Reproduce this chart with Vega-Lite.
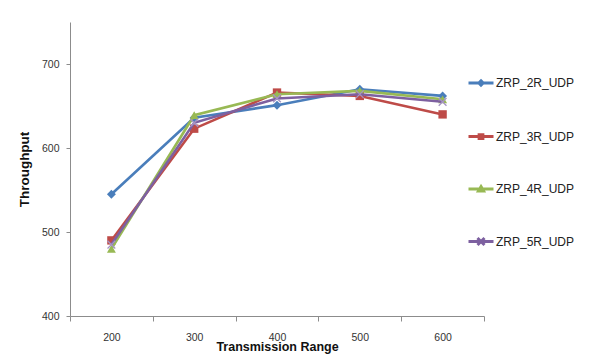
{
  "$schema": "https://vega.github.io/schema/vega-lite/v6.json",
  "autosize": "none",
  "width": 414,
  "height": 294,
  "padding": {"left": 70, "top": 22, "right": 106, "bottom": 40},
  "background": "white",
  "config": {
    "view": {"stroke": null},
    "font": "Liberation Sans",
    "axis": {
      "domainColor": "#8c8c8c",
      "tickColor": "#8c8c8c",
      "labelColor": "#333333",
      "labelFont": "Liberation Sans",
      "labelFontSize": 10.5,
      "titleFont": "Liberation Sans",
      "titleFontWeight": "bold",
      "titleColor": "#111111",
      "grid": false
    }
  },
  "data": {
    "values": [
      {"series": "ZRP_2R_UDP", "range": "200", "throughput": 545},
      {"series": "ZRP_2R_UDP", "range": "300", "throughput": 636},
      {"series": "ZRP_2R_UDP", "range": "400", "throughput": 651},
      {"series": "ZRP_2R_UDP", "range": "500", "throughput": 670},
      {"series": "ZRP_2R_UDP", "range": "600", "throughput": 662},
      {"series": "ZRP_3R_UDP", "range": "200", "throughput": 490},
      {"series": "ZRP_3R_UDP", "range": "300", "throughput": 623},
      {"series": "ZRP_3R_UDP", "range": "400", "throughput": 666},
      {"series": "ZRP_3R_UDP", "range": "500", "throughput": 662},
      {"series": "ZRP_3R_UDP", "range": "600", "throughput": 640},
      {"series": "ZRP_4R_UDP", "range": "200", "throughput": 480},
      {"series": "ZRP_4R_UDP", "range": "300", "throughput": 639},
      {"series": "ZRP_4R_UDP", "range": "400", "throughput": 664},
      {"series": "ZRP_4R_UDP", "range": "500", "throughput": 668},
      {"series": "ZRP_4R_UDP", "range": "600", "throughput": 658},
      {"series": "ZRP_5R_UDP", "range": "200", "throughput": 485},
      {"series": "ZRP_5R_UDP", "range": "300", "throughput": 630},
      {"series": "ZRP_5R_UDP", "range": "400", "throughput": 659},
      {"series": "ZRP_5R_UDP", "range": "500", "throughput": 664},
      {"series": "ZRP_5R_UDP", "range": "600", "throughput": 655}
    ]
  },
  "encoding": {
    "x": {
      "field": "range",
      "type": "ordinal",
      "bandPosition": 0.5,
      "scale": {"type": "band", "paddingInner": 0, "paddingOuter": 0},
      "axis": {
        "title": "Transmission Range",
        "labelAngle": 0,
        "tickBand": "extent",
        "tickSize": 5,
        "labelPadding": 11,
        "titleFontSize": 12.5,
        "titleX": 207,
        "titleY": 34,
        "titleBaseline": "alphabetic",
        "titleAlign": "center"
      }
    },
    "y": {
      "field": "throughput",
      "type": "quantitative",
      "scale": {"domain": [400, 750], "nice": false, "zero": false},
      "axis": {
        "title": "Throughput",
        "values": [400, 500, 600, 700],
        "tickSize": 4,
        "labelPadding": 7,
        "titleFontSize": 13.5,
        "titleX": -46,
        "titleY": 147,
        "titleAngle": -90,
        "titleAlign": "center",
        "titleBaseline": "middle"
      }
    }
  },
  "layer": [
    {
      "transform": [{"filter": "datum.series === 'ZRP_2R_UDP'"}],
      "layer": [
        {"mark": {"type": "line", "strokeWidth": 2.6, "color": "#4a7ebb"}, "encoding": {}},
        {"mark": {"type": "point", "shape": "diamond", "filled": true, "size": 80, "opacity": 1, "color": "#4a7ebb"}}
      ]
    },
    {
      "transform": [{"filter": "datum.series === 'ZRP_3R_UDP'"}],
      "layer": [
        {"mark": {"type": "line", "strokeWidth": 2.6, "color": "#be4b48"}, "encoding": {}},
        {"mark": {"type": "point", "shape": "square", "filled": true, "size": 70, "opacity": 1, "color": "#be4b48"}}
      ]
    },
    {
      "transform": [{"filter": "datum.series === 'ZRP_4R_UDP'"}],
      "layer": [
        {"mark": {"type": "line", "strokeWidth": 2.6, "color": "#98b954"}, "encoding": {}},
        {"mark": {"type": "point", "shape": "triangle-up", "filled": true, "size": 80, "opacity": 1, "color": "#98b954"}}
      ]
    },
    {
      "transform": [{"filter": "datum.series === 'ZRP_5R_UDP'"}],
      "layer": [
        {"mark": {"type": "line", "strokeWidth": 2.6, "color": "#7d60a0"}, "encoding": {}},
        {"mark": {"type": "point", "shape": "M-1,-1L1,1M-1,1L1,-1", "filled": false, "size": 60, "strokeWidth": 1.3, "opacity": 1, "color": "#a594c4"}}
      ]
    },
    {
      "mark": {"type": "point", "filled": false, "size": 0, "strokeWidth": 0, "opacity": 1},
      "encoding": {
        "color": {
          "field": "series",
          "type": "nominal",
          "scale": {
            "domain": ["ZRP_2R_UDP", "ZRP_3R_UDP", "ZRP_4R_UDP", "ZRP_5R_UDP"],
            "range": ["#4a7ebb", "#be4b48", "#98b954", "#7d60a0"]
          },
          "legend": {
            "title": null,
            "orient": "none",
            "legendX": 397,
            "legendY": 47,
            "padding": 0,
            "symbolSize": 625,
            "symbolStrokeWidth": 3,
            "symbolOpacity": 1,
            "rowPadding": 30.5,
            "labelOffset": 1,
            "labelFont": "Liberation Sans",
            "labelFontSize": 12,
            "labelColor": "#222222",
            "encode": {
              "symbols": {
                "update": {
                  "fill": {"scale": "color", "field": "value"},
                  "stroke": {"scale": "color", "field": "value"},
                  "strokeWidth": {"value": 3},
                  "opacity": {"value": 1},
                  "fillOpacity": {"value": 1},
                  "strokeOpacity": {"value": 1}
                }
              }
            }
          }
        },
        "shape": {
          "field": "series",
          "type": "nominal",
          "scale": {
            "domain": ["ZRP_2R_UDP", "ZRP_3R_UDP", "ZRP_4R_UDP", "ZRP_5R_UDP"],
            "range": [
              "M-1,0H1M0,-0.17L0.17,0L0,0.17L-0.17,0Z",
              "M-1,0H1M-0.15,-0.15H0.15V0.15H-0.15Z",
              "M-1,0H1M0,-0.19L0.2,0.15L-0.2,0.15Z",
              "M-1,0H1M-0.28,-0.28L0.28,0.28M-0.28,0.28L0.28,-0.28"
            ]
          },
          "legend": {"title": null, "orient": "none", "legendX": 397, "legendY": 47}
        }
      }
    }
  ]
}
